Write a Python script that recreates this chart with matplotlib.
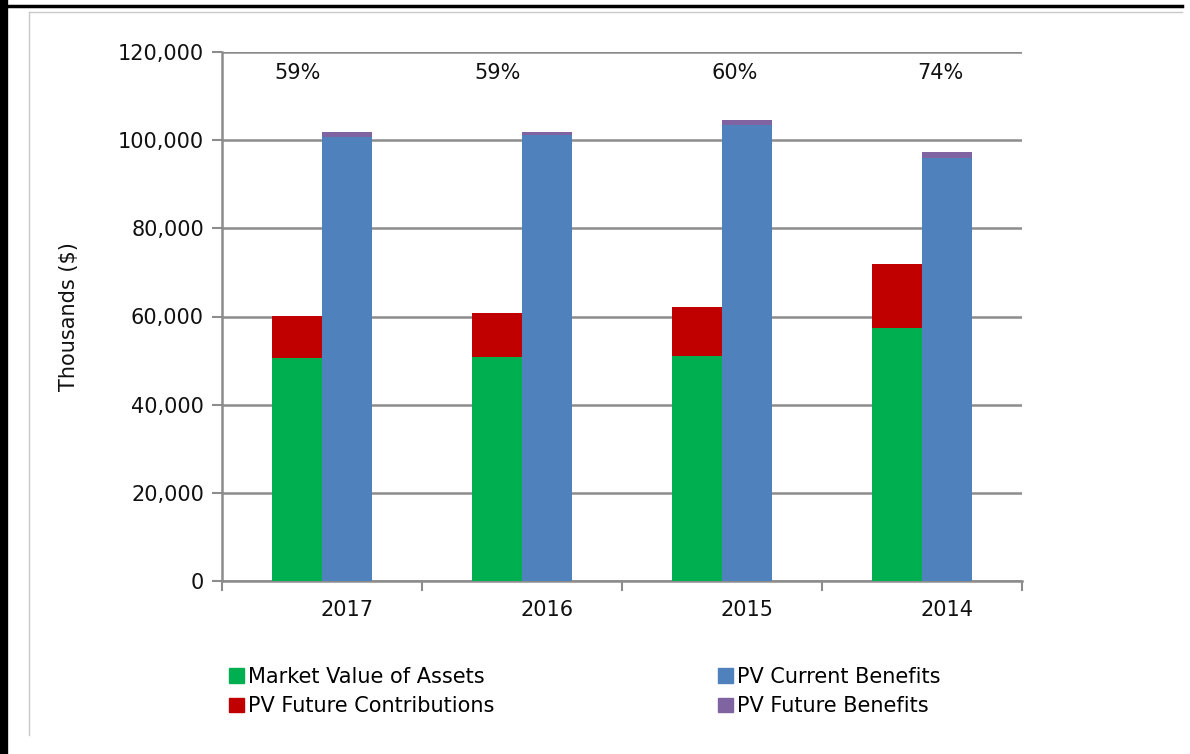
import matplotlib.pyplot as plt
import numpy as np
from matplotlib.lines import Line2D
from matplotlib.patches import Patch

years = ["2017", "2016", "2015", "2014"]
# values in thousands of dollars
assets = [50600, 50900, 51000, 57400]
fut_contrib = [9500, 9800, 11200, 14400]
cur_benefits = [100700, 101200, 103500, 95900]
fut_benefits = [1100, 600, 1000, 1500]
funded_pct = ["59%", "59%", "60%", "74%"]

green = "#00B050"
red = "#C00000"
blue = "#4F81BD"
purple = "#8064A2"
grid_col = "#8C8C8C"

plt.rcParams['font.family'] = ['DejaVu Sans']

fig = plt.figure(figsize=(11.9, 7.54), dpi=100)
ax = fig.add_axes([222/1190, 1 - 581/754, 800/1190, 529/754])

x = np.arange(len(years))
w = 0.25
ax.bar(x - w/2, assets, w, color=green, zorder=3)
ax.bar(x - w/2, fut_contrib, w, bottom=assets, color=red, zorder=3)
ax.bar(x + w/2, cur_benefits, w, color=blue, zorder=3)
ax.bar(x + w/2, fut_benefits, w, bottom=cur_benefits, color=purple, zorder=3)

# funded ratio labels near the top
label_off = [-0.12, -0.12, 0.065, 0.09]
for i, p in enumerate(funded_pct):
    ax.text(x[i] + label_off[i], 115300, p, ha="center", va="center", fontsize=15, color="#111111")

ax.set_xlim(-0.5, len(years) - 0.5)
ax.set_ylim(0, 120000)
ax.set_yticks(np.arange(0, 120001, 20000))
ax.set_yticklabels([f"{v:,}" for v in range(0, 120001, 20000)], fontsize=15, color="#111111")
ax.yaxis.grid(True, color=grid_col, linewidth=1.8, zorder=0)
ax.set_axisbelow(True)

ax.set_xticks(x + w/2)
ax.set_xticklabels(years, fontsize=15, color="#111111")
ax.tick_params(axis="x", which="major", length=0, pad=14)
ax.set_xticks(np.arange(-0.5, len(years)), minor=True)
ax.tick_params(axis="x", which="minor", length=7, width=1.5, color=grid_col)
ax.tick_params(axis="y", length=7, width=1.5, color=grid_col, pad=6)

for s in ["top", "right"]:
    ax.spines[s].set_visible(False)
for s in ["left", "bottom"]:
    ax.spines[s].set_color(grid_col)
    ax.spines[s].set_linewidth(1.8)

ax.set_ylabel("Thousands ($)", fontsize=15, color="#111111", labelpad=28)

handles = [Patch(color=green), Patch(color=red), Patch(color=blue), Patch(color=purple)]
labels = ["Market Value of Assets", "PV Future Contributions", "PV Current Benefits", "PV Future Benefits"]
fig.legend(handles, labels, ncol=2, loc="upper left", bbox_to_anchor=(229/1190, 1 - 667/754),
           frameon=False, fontsize=15, handlelength=0.7, handleheight=0.7, handletextpad=0.2,
           columnspacing=10.75, labelspacing=0.45, borderaxespad=0, borderpad=0)

# page frame lines
fig.add_artist(Line2D([4/1190, 4/1190], [0, 1], color="black", linewidth=6, transform=fig.transFigure))
fig.add_artist(Line2D([4/1190, 1182/1190], [1 - 5.5/754, 1 - 5.5/754], color="black", linewidth=2.5, transform=fig.transFigure))
fig.add_artist(Line2D([29/1190, 1182/1190], [1 - 12/754, 1 - 12/754], color="#C8C8C8", linewidth=1, transform=fig.transFigure))
fig.add_artist(Line2D([29/1190, 29/1190], [1 - 12/754, 1 - 735/754], color="#C8C8C8", linewidth=1, transform=fig.transFigure))

fig.savefig("out.png", dpi=100)
